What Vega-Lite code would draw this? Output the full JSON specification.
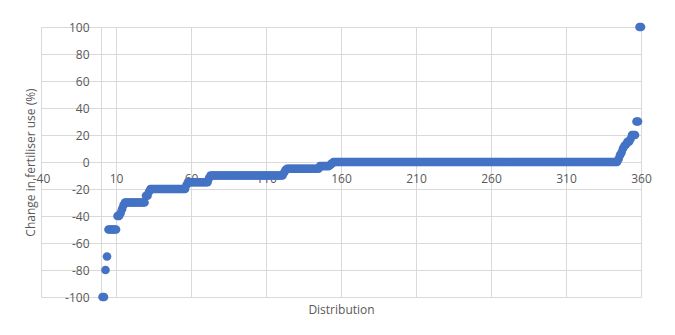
{
"$schema": "https://vega.github.io/schema/vega-lite/v6.json",
"width": 600,
"height": 270,
"autosize": {"type": "none"},
"padding": {"left": 41, "top": 27, "right": 34, "bottom": 38},
"background": "white",
"config": {"view": {"stroke": null}, "font": "Open Sans"},
"data": {"values": [
{"x":1,"y":-100},{"x":2,"y":-100},{"x":3,"y":-80},{"x":4,"y":-70},{"x":5,"y":-50},{"x":6,"y":-50},{"x":7,"y":-50},{"x":8,"y":-50},{"x":9,"y":-50},{"x":10,"y":-50},
{"x":11,"y":-40},{"x":12,"y":-40},{"x":13,"y":-38},{"x":14,"y":-35},{"x":15,"y":-32},{"x":16,"y":-30},{"x":17,"y":-30},{"x":18,"y":-30},{"x":19,"y":-30},{"x":20,"y":-30},
{"x":21,"y":-30},{"x":22,"y":-30},{"x":23,"y":-30},{"x":24,"y":-30},{"x":25,"y":-30},{"x":26,"y":-30},{"x":27,"y":-30},{"x":28,"y":-30},{"x":29,"y":-30},{"x":30,"y":-25},
{"x":31,"y":-25},{"x":32,"y":-22},{"x":33,"y":-20},{"x":34,"y":-20},{"x":35,"y":-20},{"x":36,"y":-20},{"x":37,"y":-20},{"x":38,"y":-20},{"x":39,"y":-20},{"x":40,"y":-20},
{"x":41,"y":-20},{"x":42,"y":-20},{"x":43,"y":-20},{"x":44,"y":-20},{"x":45,"y":-20},{"x":46,"y":-20},{"x":47,"y":-20},{"x":48,"y":-20},{"x":49,"y":-20},{"x":50,"y":-20},
{"x":51,"y":-20},{"x":52,"y":-20},{"x":53,"y":-20},{"x":54,"y":-20},{"x":55,"y":-20},{"x":56,"y":-20},{"x":57,"y":-17},{"x":58,"y":-15},{"x":59,"y":-15},{"x":60,"y":-15},
{"x":61,"y":-15},{"x":62,"y":-15},{"x":63,"y":-15},{"x":64,"y":-15},{"x":65,"y":-15},{"x":66,"y":-15},{"x":67,"y":-15},{"x":68,"y":-15},{"x":69,"y":-15},{"x":70,"y":-15},
{"x":71,"y":-15},{"x":72,"y":-12},{"x":73,"y":-10},{"x":74,"y":-10},{"x":75,"y":-10},{"x":76,"y":-10},{"x":77,"y":-10},{"x":78,"y":-10},{"x":79,"y":-10},{"x":80,"y":-10},
{"x":81,"y":-10},{"x":82,"y":-10},{"x":83,"y":-10},{"x":84,"y":-10},{"x":85,"y":-10},{"x":86,"y":-10},{"x":87,"y":-10},{"x":88,"y":-10},{"x":89,"y":-10},{"x":90,"y":-10},
{"x":91,"y":-10},{"x":92,"y":-10},{"x":93,"y":-10},{"x":94,"y":-10},{"x":95,"y":-10},{"x":96,"y":-10},{"x":97,"y":-10},{"x":98,"y":-10},{"x":99,"y":-10},{"x":100,"y":-10},
{"x":101,"y":-10},{"x":102,"y":-10},{"x":103,"y":-10},{"x":104,"y":-10},{"x":105,"y":-10},{"x":106,"y":-10},{"x":107,"y":-10},{"x":108,"y":-10},{"x":109,"y":-10},{"x":110,"y":-10},
{"x":111,"y":-10},{"x":112,"y":-10},{"x":113,"y":-10},{"x":114,"y":-10},{"x":115,"y":-10},{"x":116,"y":-10},{"x":117,"y":-10},{"x":118,"y":-10},{"x":119,"y":-10},{"x":120,"y":-10},
{"x":121,"y":-10},{"x":122,"y":-8},{"x":123,"y":-6},{"x":124,"y":-5},{"x":125,"y":-5},{"x":126,"y":-5},{"x":127,"y":-5},{"x":128,"y":-5},{"x":129,"y":-5},{"x":130,"y":-5},
{"x":131,"y":-5},{"x":132,"y":-5},{"x":133,"y":-5},{"x":134,"y":-5},{"x":135,"y":-5},{"x":136,"y":-5},{"x":137,"y":-5},{"x":138,"y":-5},{"x":139,"y":-5},{"x":140,"y":-5},
{"x":141,"y":-5},{"x":142,"y":-5},{"x":143,"y":-5},{"x":144,"y":-5},{"x":145,"y":-5},{"x":146,"y":-3},{"x":147,"y":-3},{"x":148,"y":-3},{"x":149,"y":-3},{"x":150,"y":-3},
{"x":151,"y":-3},{"x":152,"y":-3},{"x":153,"y":-2},{"x":154,"y":-1},{"x":155,"y":0},{"x":156,"y":0},{"x":157,"y":0},{"x":158,"y":0},{"x":159,"y":0},{"x":160,"y":0},
{"x":161,"y":0},{"x":162,"y":0},{"x":163,"y":0},{"x":164,"y":0},{"x":165,"y":0},{"x":166,"y":0},{"x":167,"y":0},{"x":168,"y":0},{"x":169,"y":0},{"x":170,"y":0},
{"x":171,"y":0},{"x":172,"y":0},{"x":173,"y":0},{"x":174,"y":0},{"x":175,"y":0},{"x":176,"y":0},{"x":177,"y":0},{"x":178,"y":0},{"x":179,"y":0},{"x":180,"y":0},
{"x":181,"y":0},{"x":182,"y":0},{"x":183,"y":0},{"x":184,"y":0},{"x":185,"y":0},{"x":186,"y":0},{"x":187,"y":0},{"x":188,"y":0},{"x":189,"y":0},{"x":190,"y":0},
{"x":191,"y":0},{"x":192,"y":0},{"x":193,"y":0},{"x":194,"y":0},{"x":195,"y":0},{"x":196,"y":0},{"x":197,"y":0},{"x":198,"y":0},{"x":199,"y":0},{"x":200,"y":0},
{"x":201,"y":0},{"x":202,"y":0},{"x":203,"y":0},{"x":204,"y":0},{"x":205,"y":0},{"x":206,"y":0},{"x":207,"y":0},{"x":208,"y":0},{"x":209,"y":0},{"x":210,"y":0},
{"x":211,"y":0},{"x":212,"y":0},{"x":213,"y":0},{"x":214,"y":0},{"x":215,"y":0},{"x":216,"y":0},{"x":217,"y":0},{"x":218,"y":0},{"x":219,"y":0},{"x":220,"y":0},
{"x":221,"y":0},{"x":222,"y":0},{"x":223,"y":0},{"x":224,"y":0},{"x":225,"y":0},{"x":226,"y":0},{"x":227,"y":0},{"x":228,"y":0},{"x":229,"y":0},{"x":230,"y":0},
{"x":231,"y":0},{"x":232,"y":0},{"x":233,"y":0},{"x":234,"y":0},{"x":235,"y":0},{"x":236,"y":0},{"x":237,"y":0},{"x":238,"y":0},{"x":239,"y":0},{"x":240,"y":0},
{"x":241,"y":0},{"x":242,"y":0},{"x":243,"y":0},{"x":244,"y":0},{"x":245,"y":0},{"x":246,"y":0},{"x":247,"y":0},{"x":248,"y":0},{"x":249,"y":0},{"x":250,"y":0},
{"x":251,"y":0},{"x":252,"y":0},{"x":253,"y":0},{"x":254,"y":0},{"x":255,"y":0},{"x":256,"y":0},{"x":257,"y":0},{"x":258,"y":0},{"x":259,"y":0},{"x":260,"y":0},
{"x":261,"y":0},{"x":262,"y":0},{"x":263,"y":0},{"x":264,"y":0},{"x":265,"y":0},{"x":266,"y":0},{"x":267,"y":0},{"x":268,"y":0},{"x":269,"y":0},{"x":270,"y":0},
{"x":271,"y":0},{"x":272,"y":0},{"x":273,"y":0},{"x":274,"y":0},{"x":275,"y":0},{"x":276,"y":0},{"x":277,"y":0},{"x":278,"y":0},{"x":279,"y":0},{"x":280,"y":0},
{"x":281,"y":0},{"x":282,"y":0},{"x":283,"y":0},{"x":284,"y":0},{"x":285,"y":0},{"x":286,"y":0},{"x":287,"y":0},{"x":288,"y":0},{"x":289,"y":0},{"x":290,"y":0},
{"x":291,"y":0},{"x":292,"y":0},{"x":293,"y":0},{"x":294,"y":0},{"x":295,"y":0},{"x":296,"y":0},{"x":297,"y":0},{"x":298,"y":0},{"x":299,"y":0},{"x":300,"y":0},
{"x":301,"y":0},{"x":302,"y":0},{"x":303,"y":0},{"x":304,"y":0},{"x":305,"y":0},{"x":306,"y":0},{"x":307,"y":0},{"x":308,"y":0},{"x":309,"y":0},{"x":310,"y":0},
{"x":311,"y":0},{"x":312,"y":0},{"x":313,"y":0},{"x":314,"y":0},{"x":315,"y":0},{"x":316,"y":0},{"x":317,"y":0},{"x":318,"y":0},{"x":319,"y":0},{"x":320,"y":0},
{"x":321,"y":0},{"x":322,"y":0},{"x":323,"y":0},{"x":324,"y":0},{"x":325,"y":0},{"x":326,"y":0},{"x":327,"y":0},{"x":328,"y":0},{"x":329,"y":0},{"x":330,"y":0},
{"x":331,"y":0},{"x":332,"y":0},{"x":333,"y":0},{"x":334,"y":0},{"x":335,"y":0},{"x":336,"y":0},{"x":337,"y":0},{"x":338,"y":0},{"x":339,"y":0},{"x":340,"y":0},
{"x":341,"y":0},{"x":342,"y":0},{"x":343,"y":0},{"x":344,"y":0},{"x":345,"y":2},{"x":346,"y":5},{"x":347,"y":7},{"x":348,"y":10},{"x":349,"y":12},{"x":350,"y":13},
{"x":351,"y":15},{"x":352,"y":15},{"x":353,"y":17},{"x":354,"y":20},{"x":355,"y":20},{"x":356,"y":20},{"x":357,"y":30},{"x":358,"y":30},{"x":359,"y":100},{"x":360,"y":100}
]},
"mark": {"type": "circle", "size": 75, "opacity": 1, "color": "#4472C4"},
"encoding": {
  "x": {"field": "x", "type": "quantitative",
    "scale": {"domain": [-40, 360], "nice": false, "zero": false},
    "axis": {"values": [-40, 10, 60, 110, 160, 210, 260, 310, 360], "offset": -135,
      "grid": true, "gridColor": "#d9d9d9", "gridWidth": 1, "domainColor": "#d9d9d9", "domainWidth": 1,
      "ticks": false, "labelPadding": 11, "labelFontSize": 12, "labelColor": "#595959", "labelFlush": false,
      "labelExpr": "'' + datum.value",
      "title": "Distribution", "titleFontWeight": "normal", "titleFontSize": 12, "titleColor": "#595959",
      "titleY": 147, "titleBaseline": "middle"}},
  "y": {"field": "y", "type": "quantitative",
    "scale": {"domain": [-100, 100], "nice": false},
    "axis": {"values": [-100, -80, -60, -40, -20, 0, 20, 40, 60, 80, 100], "offset": -60,
      "grid": true, "gridColor": "#d9d9d9", "gridWidth": 1, "domainColor": "#d9d9d9", "domainWidth": 1,
      "ticks": false, "labelPadding": 12, "labelFontSize": 12, "labelColor": "#595959", "labelFlush": false,
      "labelExpr": "'' + datum.value",
      "title": "Change in fertiliser use (%)", "titleFontWeight": "normal", "titleFontSize": 12, "titleColor": "#595959",
      "titleX": -71, "titleBaseline": "middle"}}
}
}
